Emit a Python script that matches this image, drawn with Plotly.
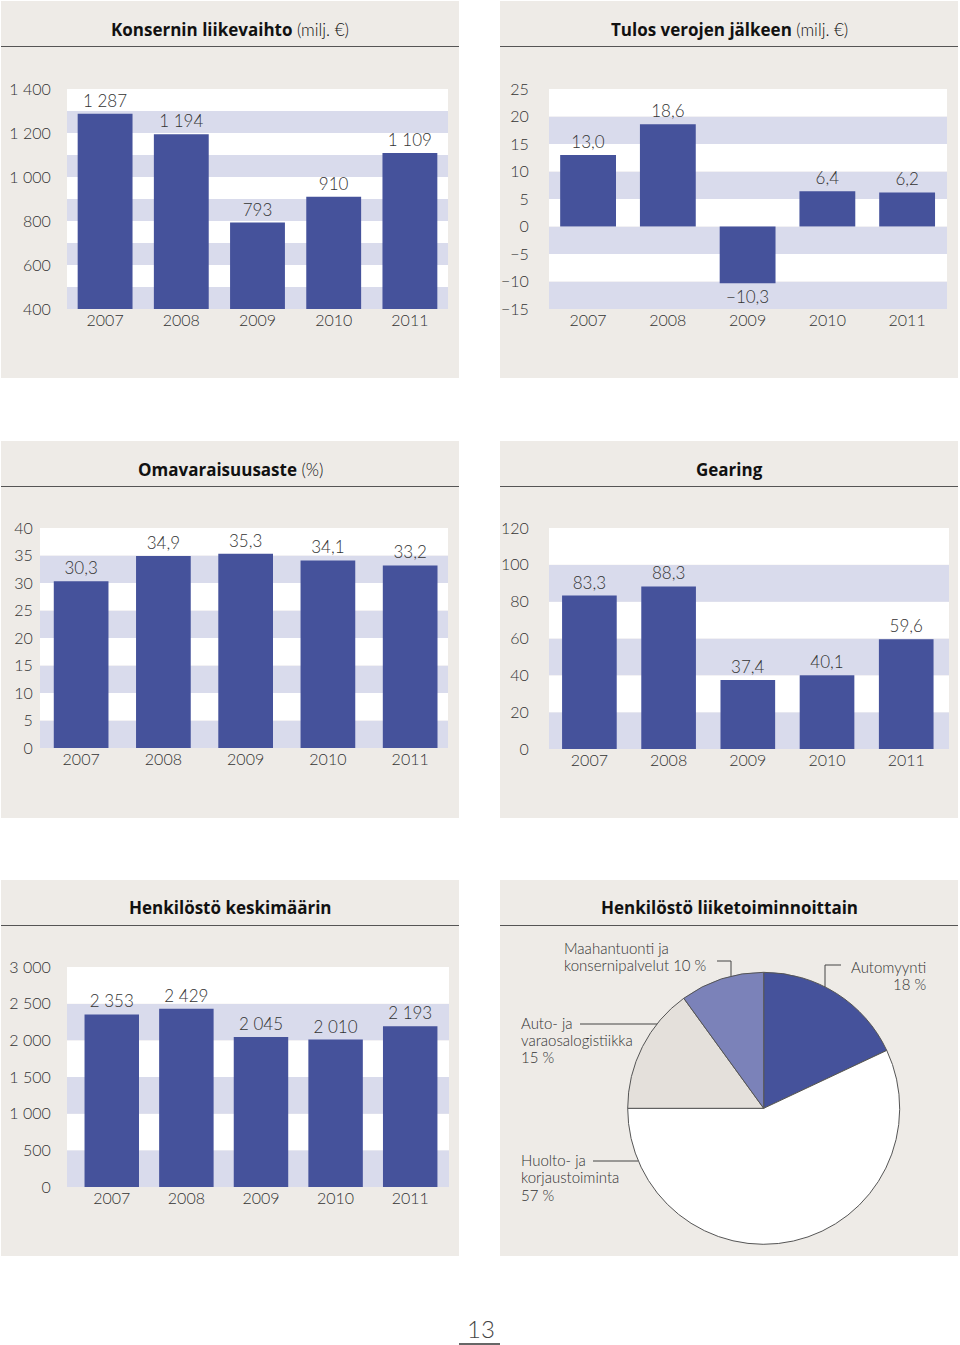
import plotly.graph_objects as go

W, H = 960, 1345

# ---------------- data ----------------
years = ["2007", "2008", "2009", "2010", "2011"]
liikevaihto = [1287, 1194, 793, 910, 1109]
tulos = [13.0, 18.6, -10.3, 6.4, 6.2]
omavaraisuus = [30.3, 34.9, 35.3, 34.1, 33.2]
gearing = [83.3, 88.3, 37.4, 40.1, 59.6]
henkilosto = [2353, 2429, 2045, 2010, 2193]

pie_labels = ["Automyynti", "Huolto- ja korjaustoiminta",
              "Auto- ja varaosalogistiikka", "Maahantuonti ja konsernipalvelut"]
pie_values = [18, 57, 15, 10]

ticks1 = [400, 600, 800, 1000, 1200, 1400]
ticks2 = [-15, -10, -5, 0, 5, 10, 15, 20, 25]
ticks3 = [0, 5, 10, 15, 20, 25, 30, 35, 40]
ticks4 = [0, 20, 40, 60, 80, 100, 120]
ticks5 = [0, 500, 1000, 1500, 2000, 2500, 3000]

# ---------------- style ----------------
FONT = "Lato"
TFONT = "Open Sans"
BAR = "#45529b"
LAV = "#d9dbec"
PANEL = "#eeebe7"
TXT = "#333333"


def fx(p):
    return p / W


def fy(p):
    return 1 - p / H


def fmt_int(v):
    s = f"{abs(int(v)):,}".replace(",", " ")
    return ("−" + s) if v < 0 else s


def fmt_dec(v):
    s = f"{abs(v):.1f}".replace(".", ",")
    return ("−" + s) if v < 0 else s


fig = go.Figure()
shapes = []
annotations = []

# panels (left, top, right, bottom) and header line
panels = [
    (1, 1, 459, 378), (500, 1, 958, 378),
    (1, 441, 459, 818), (500, 441, 958, 818),
    (1, 880, 459, 1256), (500, 880, 958, 1256),
]
for (l, t, r, b) in panels:
    shapes.append(dict(type="rect", xref="paper", yref="paper",
                       x0=fx(l), x1=fx(r), y0=fy(b), y1=fy(t),
                       fillcolor=PANEL, line=dict(width=0), layer="below"))
    shapes.append(dict(type="line", xref="paper", yref="paper",
                       x0=fx(l), x1=fx(r), y0=fy(t + 45.5), y1=fy(t + 45.5),
                       line=dict(color="#555555", width=1.2)))


def title(bold, light=""):
    s = f"<b>{bold}</b>"
    if light:
        s += f" <span style='font-family:Lato;font-weight:300'>{light}</span>"
    return s


titles = [
    (title("Konsernin liikevaihto", "(milj. €)"), 230, 30),
    (title("Tulos verojen jälkeen", "(milj. €)"), 729, 30),
    (title("Omavaraisuusaste", "(%)"), 230, 469),
    (title("Gearing"), 729, 469),
    (title("Henkilöstö keskimäärin"), 230, 907),
    (title("Henkilöstö liiketoiminnoittain"), 729, 907),
]
for txt, x, y in titles:
    annotations.append(dict(text=txt, x=fx(x), y=fy(y), xref="paper", yref="paper",
                            xanchor="center", yanchor="middle", showarrow=False,
                            font=dict(family=TFONT, size=17, color="#111111")))

# bar charts: values, text, ticks, ticktext, x-domain px, y-domain px, x-range, width, ticklen, band step
charts = [
    (liikevaihto, [fmt_int(v) for v in liikevaihto], ticks1, [fmt_int(v) for v in ticks1],
     (67, 448), (89, 309), [-0.5, 4.5], 0.72, 12, 100),
    (tulos, [fmt_dec(v) for v in tulos], ticks2, [fmt_int(v) for v in ticks2],
     (549, 947), (89, 309), [-0.49, 4.5], 0.70, 16, 5),
    (omavaraisuus, [fmt_dec(v) for v in omavaraisuus], ticks3, [fmt_int(v) for v in ticks3],
     (40, 448), (528, 748), [-0.5, 4.46], 0.665, 3, 5),
    (gearing, [fmt_dec(v) for v in gearing], ticks4, [fmt_int(v) for v in ticks4],
     (549, 949), (528, 749), [-0.51, 4.54], 0.69, 16, 20),
    (henkilosto, [fmt_int(v) for v in henkilosto], ticks5, [fmt_int(v) for v in ticks5],
     (67, 449), (967, 1187), [-0.6, 4.52], 0.73, 12, 500),
]

LIGHT = dict(family=FONT, size=16, color=TXT, weight=300)

layout_axes = {}
for i, (vals, texts, tv, tt, xd, yd, xr, bw, tl, step) in enumerate(charts, start=1):
    xa = "x" if i == 1 else f"x{i}"
    ya = "y" if i == 1 else f"y{i}"
    fig.add_trace(go.Bar(
        x=years, y=vals, text=texts, textposition="outside", textangle=0,
        cliponaxis=False, width=bw, marker=dict(color=BAR, line=dict(width=0)),
        textfont=dict(family=FONT, size=17, color=TXT, weight=300),
        xaxis=xa, yaxis=ya, hoverinfo="skip"))
    lo, hi = tv[0], tv[-1]
    nb = int(round((hi - lo) / step))
    for k in range(nb):
        shapes.append(dict(type="rect", xref=f"{xa} domain", yref=ya,
                           x0=0, x1=1, y0=lo + k * step, y1=lo + (k + 1) * step,
                           fillcolor=LAV if k % 2 == 0 else "#ffffff",
                           line=dict(width=0), layer="below"))
    xkey = "xaxis" if i == 1 else f"xaxis{i}"
    ykey = "yaxis" if i == 1 else f"yaxis{i}"
    layout_axes[xkey] = dict(domain=[fx(xd[0]), fx(xd[1])], anchor=ya, type="category",
                             range=xr, showgrid=False, zeroline=False, showline=False,
                             ticks="", tickfont=LIGHT, fixedrange=True, automargin=False)
    layout_axes[ykey] = dict(domain=[fy(yd[1]), fy(yd[0])], anchor=xa, range=[lo, hi],
                             tickvals=tv, ticktext=tt, showgrid=False, zeroline=False,
                             showline=False, ticks="outside", ticklen=tl,
                             tickcolor="rgba(0,0,0,0)", tickfont=LIGHT,
                             fixedrange=True, automargin=False)

# pie
cx, cy, r = 763.7, 1108.3, 136
fig.add_trace(go.Pie(
    labels=pie_labels, values=pie_values, sort=False, direction="clockwise",
    rotation=0, textinfo="none", hoverinfo="label+percent", automargin=False,
    marker=dict(colors=[BAR, "#ffffff", "#e4e0db", "#7b82b9"],
                line=dict(color="#555555", width=1)),
    domain=dict(x=[fx(cx - r), fx(cx + r)], y=[fy(cy + r), fy(cy - r)]),
    showlegend=False))

pie_text = [
    ("Maahantuonti ja", 562, 948, "left"),
    ("konsernipalvelut 10 %", 562, 965, "left"),
    ("Automyynti", 928, 967, "right"),
    ("18 %", 928, 984, "right"),
    ("Auto- ja", 519, 1023, "left"),
    ("varaosalogistiikka", 519, 1040, "left"),
    ("15 %", 519, 1057, "left"),
    ("Huolto- ja", 519, 1160, "left"),
    ("korjaustoiminta", 519, 1177, "left"),
    ("57 %", 519, 1195, "left"),
]
for txt, x, y, anc in pie_text:
    annotations.append(dict(text=txt, x=fx(x), y=fy(y), xref="paper", yref="paper",
                            xanchor=anc, yanchor="middle", showarrow=False,
                            font=dict(family=FONT, size=15, color=TXT, weight=300)))

leader = [
    [(717, 961), (731, 961), (731, 976)],
    [(841, 965), (825, 965), (825, 987)],
    [(580, 1024), (657, 1024)],
    [(593, 1161), (638, 1161)],
]
for pts in leader:
    path = "M " + " L ".join(f"{fx(a)},{fy(b)}" for a, b in pts)
    shapes.append(dict(type="path", xref="paper", yref="paper", path=path,
                       line=dict(color="#444444", width=1)))

# page number
annotations.append(dict(text="13", x=fx(481), y=fy(1328), xref="paper", yref="paper",
                        xanchor="center", yanchor="middle", showarrow=False,
                        font=dict(family=FONT, size=24, color="#444444", weight=300)))
shapes.append(dict(type="line", xref="paper", yref="paper",
                   x0=fx(459), x1=fx(500), y0=fy(1344), y1=fy(1344),
                   line=dict(color="#333333", width=1.5)))

fig.update_layout(
    width=W, height=H, autosize=False,
    margin=dict(l=0, r=0, t=0, b=0, pad=0, autoexpand=False),
    paper_bgcolor="#ffffff", plot_bgcolor="rgba(0,0,0,0)",
    showlegend=False,
    font=dict(family=FONT, color=TXT),
    shapes=shapes, annotations=annotations,
    **layout_axes,
)

fig.write_html(
    "out.html",
    config={"displayModeBar": False},
    post_script=(
        "document.documentElement.style.margin='0';"
        "document.body.style.margin='0';"
        "document.body.style.overflow='hidden';"
        "var gd=document.getElementById('{plot_id}');"
        "gd.style.position='absolute';gd.style.top='0px';gd.style.left='0px';"
    ),
)
